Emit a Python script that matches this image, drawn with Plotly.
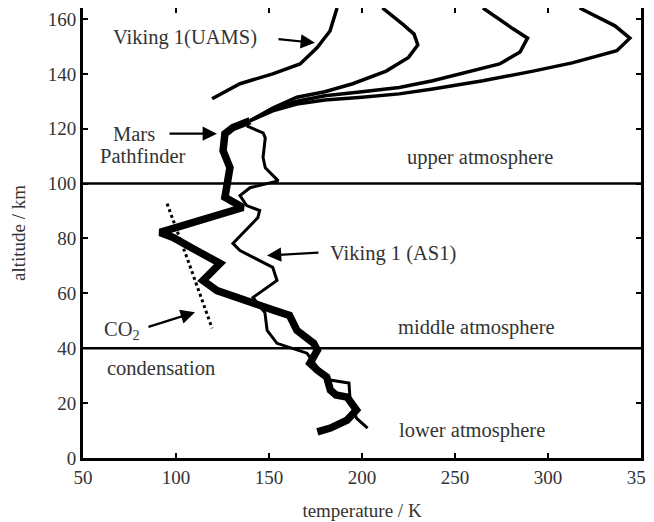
import plotly.graph_objects as go

# ---------------- data (temperature K, altitude km) ----------------
pf_lower_T = [176, 183, 192, 197, 192, 186, 183, 181, 176, 172, 176, 174, 165, 161, 152,
              137, 122, 114.5, 123.7, 110, 98.4, 91.4, 110, 136, 126.3, 127.4, 129, 125.3,
              126.3, 130.6, 139.8]
pf_lower_alt = [9.5, 10.9, 13.8, 17.5, 22.2, 23, 24.7, 29.5, 32, 34.5, 39.3, 41.8, 46.5, 52, 54,
                57.5, 61, 64.7, 70.9, 76, 80.4, 82.2, 86, 91.3, 95, 100, 105.8, 112,
                118.2, 120.4, 122.9]

br1_T = [139.8, 152, 165, 180, 195, 213, 225, 230, 228, 222, 211]
br1_alt = [122.9, 127.5, 131.5, 133.5, 136.4, 141, 146, 150.5, 154.5, 158, 164]
br2_T = [139.8, 152, 165, 180, 200, 220, 238, 256, 274, 285, 289, 281, 265]
br2_alt = [122.9, 127, 130, 132, 133.5, 135, 137.5, 140.4, 143.6, 148, 153, 156.5, 164]
br3_T = [139.8, 152, 165, 180, 200, 220, 238, 265, 292, 313, 337, 344, 336, 317]
br3_alt = [122.9, 126.5, 129, 130.5, 131.5, 132.7, 134.5, 137.5, 141, 144, 148.4, 153, 157.5, 164]

uams_T = [119.4, 134.4, 152, 166.7, 175.8, 182.8, 186.6]
uams_alt = [130.9, 136.4, 140, 143.6, 149.5, 155.6, 164]

as1_T = [203, 197, 193.5, 193, 182, 176, 170.4, 154.3, 149, 147.8, 141.4, 154.3, 152,
         134.4, 130.6, 144, 145, 138, 134.4, 139.8, 155, 148, 146.8, 148, 146.8, 138]
as1_alt = [10.9, 14.5, 22.2, 27.3, 28.5, 33, 38.2, 41.8, 46.5, 53, 58.5, 64.7, 69.5,
           75.6, 78.2, 87.6, 90.2, 92, 95.6, 98.5, 101, 105.8, 109.5, 116.7, 118.5, 121]

co2_T = [95.2, 105.9, 119.4]
co2_alt = [92.7, 73, 47.3]

boundary_alt = [40, 100]
x_ticks = [50, 100, 150, 200, 250, 300, 350]
y_ticks = [0, 20, 40, 60, 80, 100, 120, 140, 160]

FONT = "Liberation Serif"
TXT = "#333333"

fig = go.Figure()

for t, a in [(br1_T, br1_alt), (br2_T, br2_alt), (br3_T, br3_alt)]:
    fig.add_trace(go.Scatter(x=t, y=a, mode="lines", line=dict(color="black", width=3.5),
                             showlegend=False, hoverinfo="skip"))
fig.add_trace(go.Scatter(x=uams_T, y=uams_alt, mode="lines", line=dict(color="black", width=3.5),
                         showlegend=False))
fig.add_trace(go.Scatter(x=as1_T, y=as1_alt, mode="lines", line=dict(color="black", width=3),
                         showlegend=False))
fig.add_trace(go.Scatter(x=pf_lower_T, y=pf_lower_alt, mode="lines",
                         line=dict(color="black", width=7.5), showlegend=False))
fig.add_trace(go.Scatter(x=co2_T, y=co2_alt, mode="lines",
                         line=dict(color="black", width=3, dash="dot"), showlegend=False))

for b in boundary_alt:
    fig.add_hline(y=b, line=dict(color="black", width=2.5))

def label(x, y, text, xanchor="center"):
    fig.add_annotation(x=x, y=y, text=text, showarrow=False, xanchor=xanchor,
                       font=dict(family=FONT, size=20.5, color=TXT))

def arrow(x, y, ax, ay):
    fig.add_annotation(x=x, y=y, ax=ax, ay=ay, axref="x", ayref="y", xref="x", yref="y",
                       text="", showarrow=True, arrowhead=2, arrowsize=1.3, arrowwidth=2.2,
                       arrowcolor="black")

label(104.8, 153.1, "Viking 1(UAMS)")
arrow(174.7, 151.3, 154.3, 152.7)
label(77.5, 118.2, "Mars")
label(82.3, 110.2, "Pathfinder")
arrow(122, 118.2, 95.7, 118.2)
label(263.4, 109.5, "upper atmosphere")
label(216.7, 74.5, "Viking 1 (AS1)")
arrow(148.9, 73.8, 177.4, 74.9)
label(71, 46.5, "CO<sub>2</sub>")
arrow(110.2, 53.1, 84.4, 47.6)
label(261.8, 47.6, "middle atmosphere")
label(92, 32.7, "condensation")
label(259, 10.2, "lower atmosphere")

axis_common = dict(showline=True, linecolor="black", linewidth=3, mirror="ticks",
                   ticks="inside", ticklen=5, tickwidth=2, tickcolor="black",
                   showgrid=False, zeroline=False, automargin=False,
                   ticklabeloverflow="allow",
                   tickfont=dict(family=FONT, size=19, color=TXT))

fig.update_xaxes(range=[50, 350], tickvals=x_ticks,
                 title=dict(text="temperature / K", font=dict(family=FONT, size=19, color=TXT),
                            standoff=17),
                 **axis_common)
fig.update_yaxes(range=[0, 164], tickvals=y_ticks,
                 title=dict(text="altitude / km", font=dict(family=FONT, size=19, color=TXT),
                            standoff=21),
                 **axis_common)

# page body has an 8 px default margin, so the figure is sized to fit inside it
fig.update_layout(width=646, height=514, margin=dict(l=75, r=13, t=0, b=64),
                  plot_bgcolor="white", paper_bgcolor="white", showlegend=False)

fig.write_html("out.html")
